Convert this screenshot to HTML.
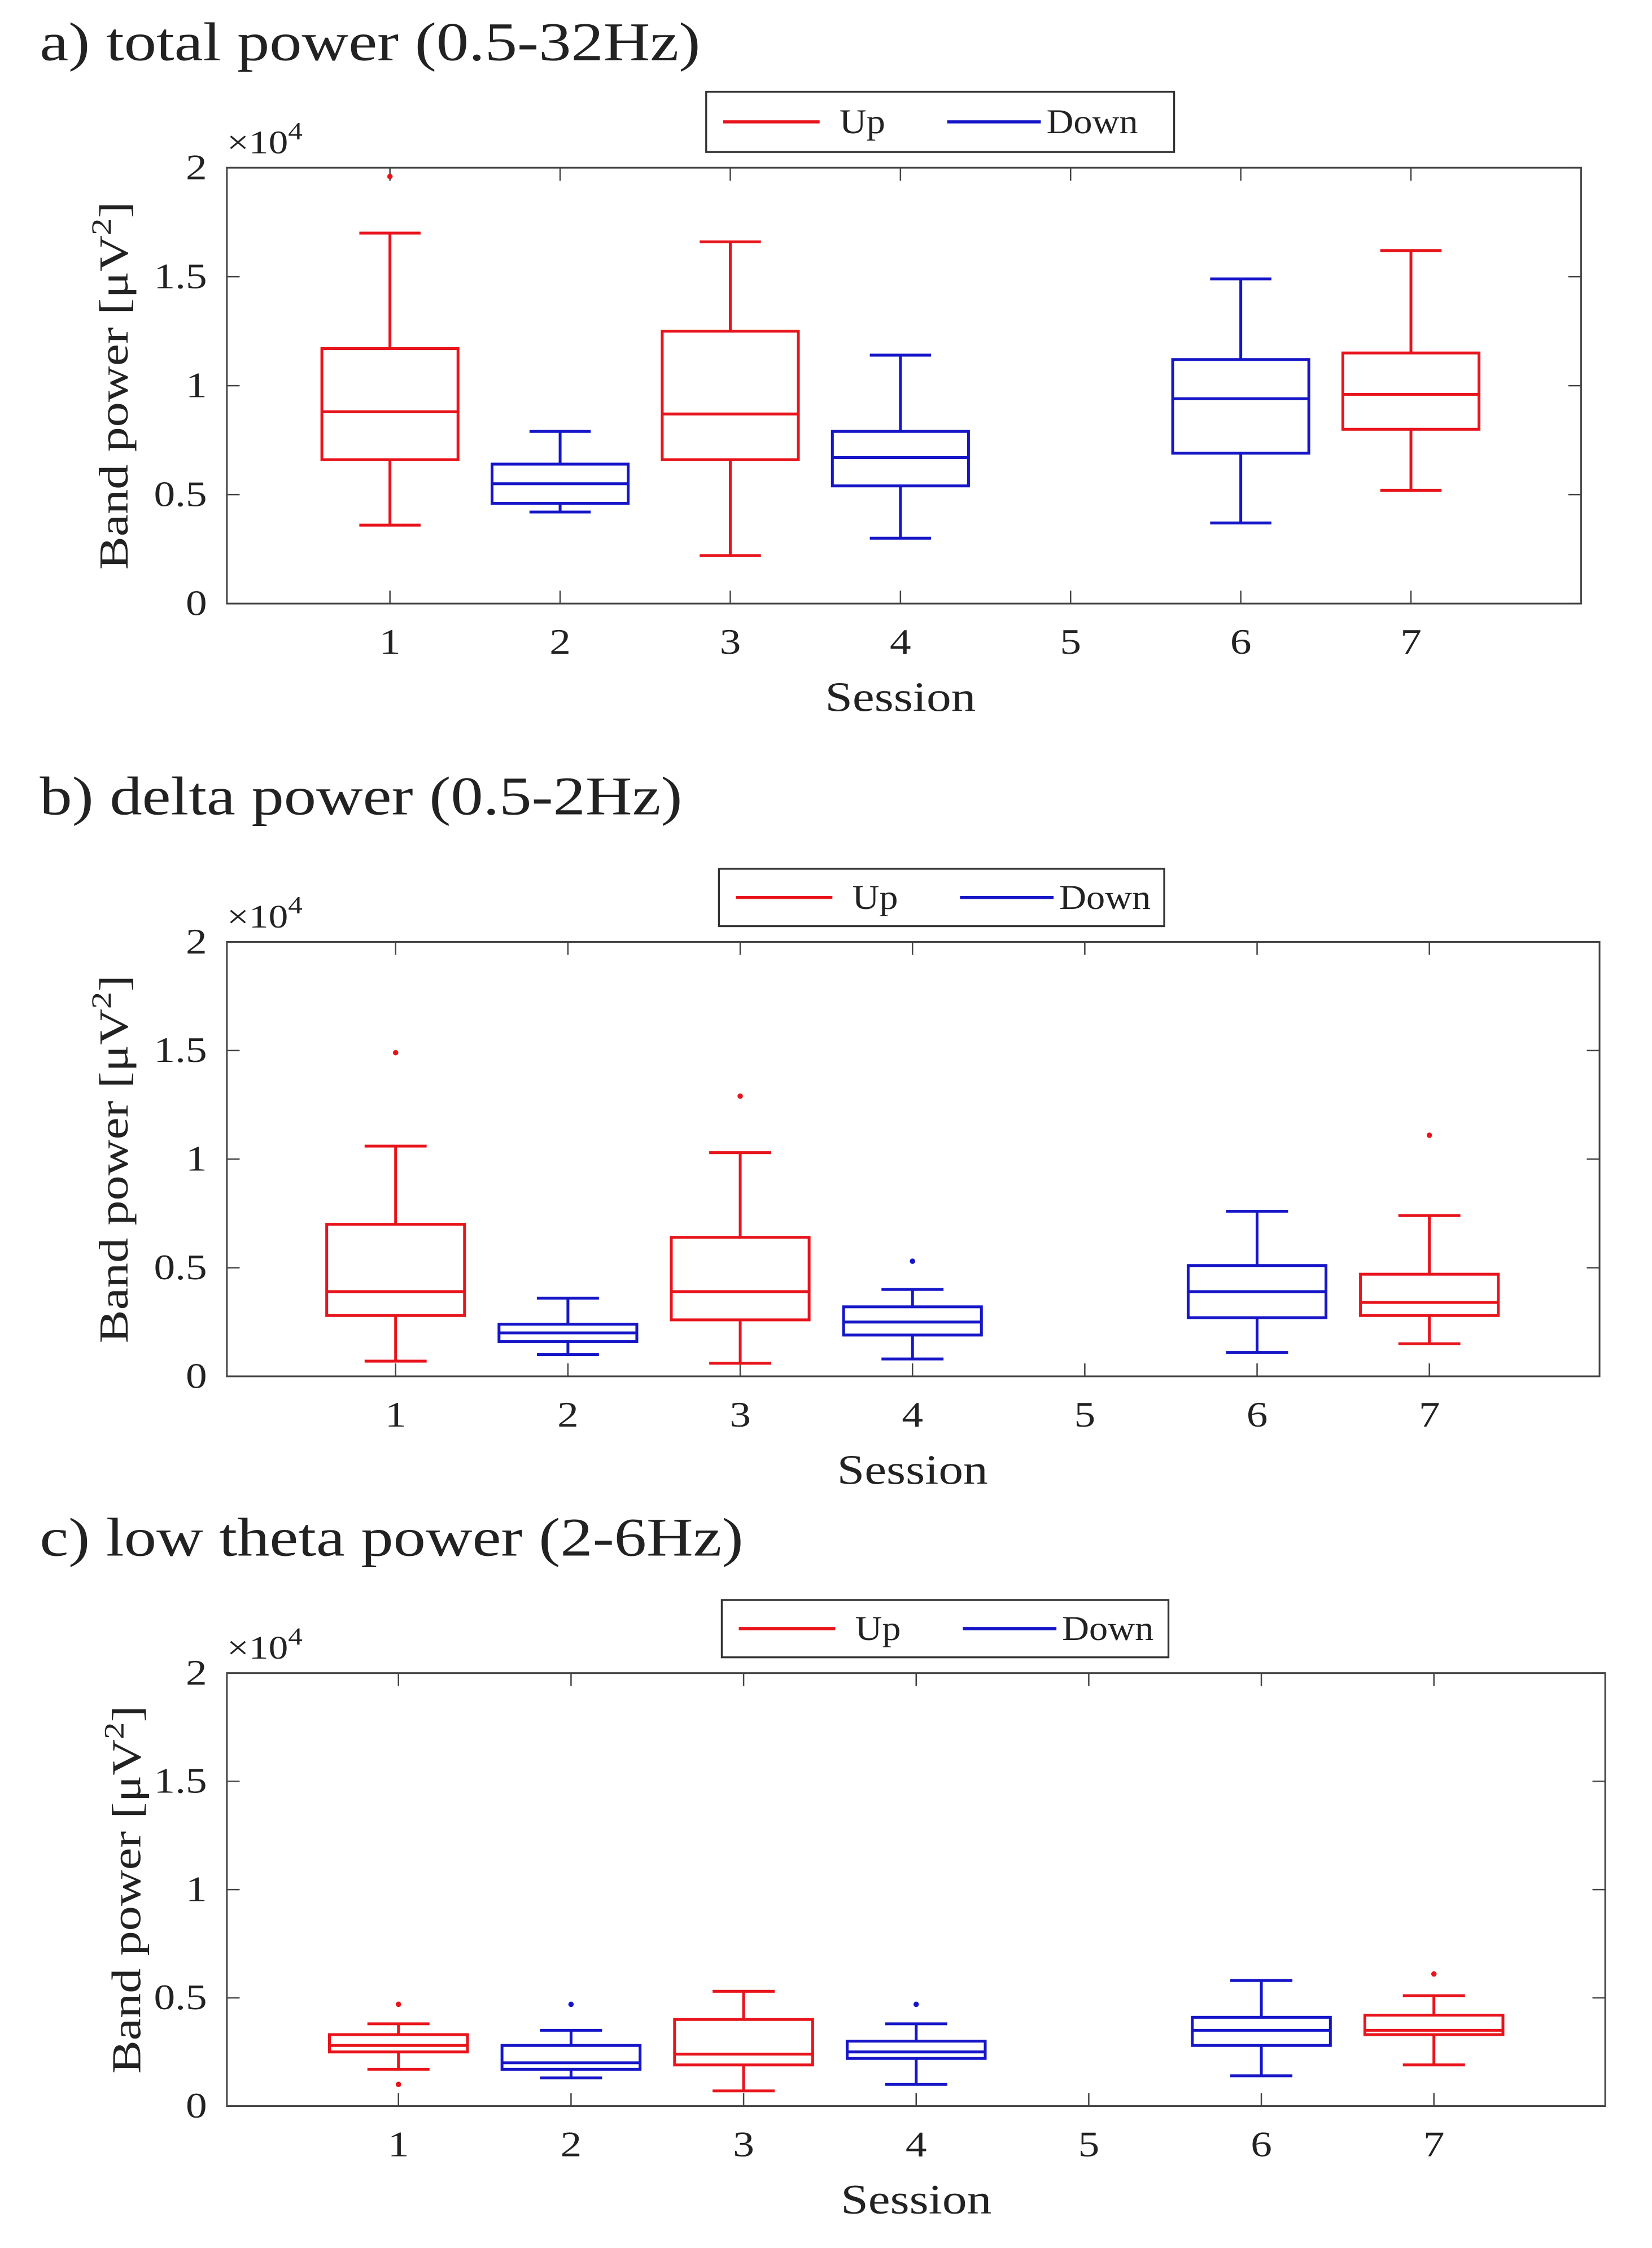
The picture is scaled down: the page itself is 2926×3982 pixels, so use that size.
<!DOCTYPE html>
<html><head><meta charset="utf-8"><style>
html,body{margin:0;padding:0;background:#fff;}
svg{display:block;}
text{font-family:"Liberation Serif",serif;fill:#222;}
</style></head><body>
<svg id="fig" width="2926" height="3982" viewBox="0 0 1165 1568" preserveAspectRatio="none" xmlns="http://www.w3.org/2000/svg"></svg>
<script>
// Data (units of 1e4 µV^2), per session 1..7 (session 5 empty)
const sessions = [1,2,3,4,5,6,7];
const groups = ['up','down','up','down',null,'down','up'];
const yTicks = [0,0.5,1,1.5,2];
const yTickLabels = ['0','0.5','1','1.5','2'];
// panel a: total power
const aLo  = [0.36,0.42,0.22,0.30,null,0.37,0.52];
const aQ1  = [0.66,0.46,0.66,0.54,null,0.69,0.80];
const aMed = [0.88,0.55,0.87,0.67,null,0.94,0.96];
const aQ3  = [1.17,0.64,1.25,0.79,null,1.12,1.15];
const aHi  = [1.70,0.79,1.66,1.14,null,1.49,1.62];
const aOut = [[1.96],[],[],[],[],[],[]];
// panel b: delta power
const bLo  = [0.07,0.10,0.06,0.08,null,0.11,0.15];
const bQ1  = [0.28,0.16,0.26,0.19,null,0.27,0.28];
const bMed = [0.39,0.20,0.39,0.25,null,0.39,0.34];
const bQ3  = [0.70,0.24,0.64,0.32,null,0.51,0.47];
const bHi  = [1.06,0.36,1.03,0.40,null,0.76,0.74];
const bOut = [[1.49],[],[1.29],[0.53],[],[],[1.11]];
// panel c: low theta power
const cLo  = [0.17,0.13,0.07,0.10,null,0.14,0.19];
const cQ1  = [0.25,0.17,0.19,0.22,null,0.28,0.33];
const cMed = [0.28,0.20,0.24,0.25,null,0.35,0.35];
const cQ3  = [0.33,0.28,0.40,0.30,null,0.41,0.42];
const cHi  = [0.38,0.35,0.53,0.38,null,0.58,0.51];
const cOut = [[0.47,0.10],[0.47],[],[0.47],[],[],[0.61]];

const NS='http://www.w3.org/2000/svg';
const svg=document.getElementById('fig');
const COL={up:'#e8141c',down:'#1616c8'};
const SX=1.2;
function mk(tag,attrs,parent){const e=document.createElementNS(NS,tag);for(const k in attrs)e.setAttribute(k,attrs[k]);(parent||svg).appendChild(e);return e;}
function txt(parent,x,y,size,anchor,html,rot,sx){
  const s=sx||SX;
  const tr=rot?`translate(${x},${y}) rotate(-90) scale(${s},1)`:`translate(${x},${y}) scale(${s},1)`;
  const t=mk('text',{x:0,y:0,'font-size':size,'text-anchor':anchor,transform:tr},parent);
  t.innerHTML=html;return t;
}

const panels=[
 {id:'a',title:'a) total power (0.5-32Hz)',ty:42,L:160,R:1115,T:117,B:421,x1:275,dx:120,leg:[498,64,330,42],ylab:90,data:[aLo,aQ1,aMed,aQ3,aHi,aOut]},
 {id:'b',title:'b) delta power (0.5-2Hz)',ty:568,L:160,R:1128,T:657,B:960,x1:279,dx:121.5,leg:[507,606,314,40],ylab:90,data:[bLo,bQ1,bMed,bQ3,bHi,bOut]},
 {id:'c',title:'c) low theta power (2-6Hz)',ty:1085,L:160,R:1132,T:1167,B:1469,x1:281,dx:121.7,leg:[509,1116,315,40],ylab:99,data:[cLo,cQ1,cMed,cQ3,cHi,cOut]}
];

panels.forEach(p=>{
  const g=mk('g',{});
  
  
  const xs=i=>p.x1+(sessions[i]-1)*p.dx;
  const ys=v=>p.B-(v/2)*(p.B-p.T);
  const t=txt(g,28,p.ty,38,'start',p.title);
  
  const ax=mk('rect',{x:p.L,y:p.T,width:p.R-p.L,height:p.B-p.T,fill:'none',stroke:'#444','stroke-width':1.2},g);
  
  sessions.forEach((s,i)=>{
    const x=xs(i);
    mk('line',{x1:x,y1:p.B,x2:x,y2:p.B-9,stroke:'#444','stroke-width':1},g);
    mk('line',{x1:x,y1:p.T,x2:x,y2:p.T+9,stroke:'#444','stroke-width':1},g);
    const tl=txt(g,x,p.B+35,25,'middle',String(s));
    
  });
  yTicks.forEach((v,i)=>{
    const y=ys(v);
    mk('line',{x1:p.L,y1:y,x2:p.L+9,y2:y,stroke:'#444','stroke-width':1},g);
    mk('line',{x1:p.R,y1:y,x2:p.R-9,y2:y,stroke:'#444','stroke-width':1},g);
    const tl=txt(g,p.L-14,y+8,25,'end',yTickLabels[i]);
    
  });
  const ex=txt(g,p.L,p.T-10,23,'start','×10<tspan dy="-10" font-size="17">4</tspan>');
  
  const xl=txt(g,xs(3),p.B+75,29,'middle','Session');
  
  const yl=txt(g,p.ylab,(p.T+p.B)/2,29,'middle','Band power [μV<tspan dy="-12" font-size="20">2</tspan><tspan dy="12">]</tspan>',true);
  
  const [lx,ly,lw,lh]=p.leg;
  const lg=mk('g',{},g);
  
  mk('rect',{x:lx,y:ly,width:lw,height:lh,fill:'#fff',stroke:'#333','stroke-width':1.3},lg);
  mk('line',{x1:lx+12,y1:ly+lh/2,x2:lx+80,y2:ly+lh/2,stroke:COL.up,'stroke-width':2.2},lg);
  txt(lg,lx+94,ly+lh/2+8,24,'start','Up',false,1.1);
  mk('line',{x1:lx+170,y1:ly+lh/2,x2:lx+236,y2:ly+lh/2,stroke:COL.down,'stroke-width':2.2},lg);
  txt(lg,lx+240,ly+lh/2+8,24,'start','Down',false,1.1);
  const [lo,q1,md,q3,hi,out]=p.data;
  const hw=0.4*p.dx, cw=0.18*p.dx;
  sessions.forEach((s,i)=>{
    if(groups[i]===null||lo[i]===null)return;
    const c=COL[groups[i]], x=xs(i);
    const bg=mk('g',{stroke:c,'stroke-width':2,fill:'none'},g);
    
    mk('rect',{x:x-hw,y:ys(q3[i]),width:2*hw,height:ys(q1[i])-ys(q3[i])},bg);
    mk('line',{x1:x-hw,y1:ys(md[i]),x2:x+hw,y2:ys(md[i])},bg);
    mk('line',{x1:x,y1:ys(q3[i]),x2:x,y2:ys(hi[i])},bg);
    mk('line',{x1:x,y1:ys(q1[i]),x2:x,y2:ys(lo[i])},bg);
    mk('line',{x1:x-cw,y1:ys(hi[i]),x2:x+cw,y2:ys(hi[i])},bg);
    mk('line',{x1:x-cw,y1:ys(lo[i]),x2:x+cw,y2:ys(lo[i])},bg);
    out[i].forEach(v=>{
      const o=mk('circle',{cx:x,cy:ys(v),r:1.9,fill:c,stroke:'none'},g);
      
    });
  });
});
</script>
</body></html>
